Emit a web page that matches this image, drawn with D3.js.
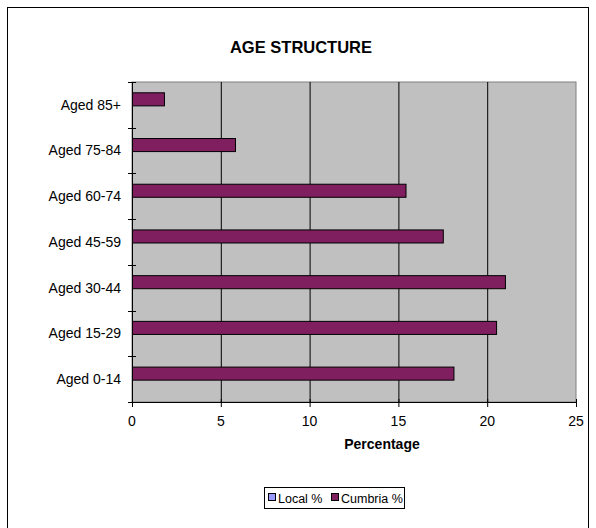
<!DOCTYPE html>
<html><head><meta charset="utf-8">
<script src="https://cdn.jsdelivr.net/npm/d3@7"></script>
<style>body{margin:0;background:#fff;} svg{display:block;font-family:"Liberation Sans",Arial,sans-serif;}</style>
</head><body>
<svg id="c" width="596" height="528"></svg>
<script>
const categories = ["Aged 0-14","Aged 15-29","Aged 30-44","Aged 45-59","Aged 60-74","Aged 75-84","Aged 85+"];
const localValues = [0,0,0,0,0,0,0];
const cumbriaValues = [18.1,20.5,21.0,17.5,15.4,5.8,1.8];
const seriesNames = ["Local %","Cumbria %"];
const xTicks = [0,5,10,15,20,25];

const svg = d3.select("#c");
svg.append("rect").attr("x",7.5).attr("y",7.5).attr("width",581).attr("height",540)
  .attr("fill","#fff").attr("stroke","#000");

const L=132, R=576, T=82, B=402;
const x = d3.scaleLinear().domain([0,25]).range([L,R]);
const y = d3.scaleBand().domain(categories.slice().reverse()).range([T,B]);
const inner = d3.scaleBand().domain(["Cumbria %","Local %"]).range([0,y.bandwidth()]).paddingInner(0).paddingOuter(0.75);

svg.append("rect").attr("x",L).attr("y",T).attr("width",R-L).attr("height",B-T)
  .attr("fill","#c0c0c0").attr("stroke","#808080");

// gridlines
svg.append("g").selectAll("line").data(xTicks.slice(1,-1)).join("line")
  .attr("x1",d=>x(d)+0.5).attr("x2",d=>x(d)+0.5).attr("y1",T).attr("y2",B)
  .attr("stroke","#000");

// title
svg.append("text").attr("x",301).attr("y",53).attr("text-anchor","middle")
  .attr("font-weight","bold").attr("font-size",16.5).text("AGE STRUCTURE");

const colors = {"Local %":"#9999ff","Cumbria %":"#7f1f5f"};
const data = [];
categories.forEach((c,i)=>{
  data.push({cat:c,s:"Local %",v:localValues[i]});
  data.push({cat:c,s:"Cumbria %",v:cumbriaValues[i]});
});
svg.append("g").selectAll("rect").data(data.filter(d=>d.v>0)).join("rect")
  .attr("x",x(0)+0.5).attr("y",d=>y(d.cat)+inner(d.s)+1)
  .attr("width",d=>x(d.v)-x(0)).attr("height",inner.bandwidth())
  .attr("fill",d=>colors[d.s]).attr("stroke","#000").attr("stroke-width",1);

// y axis
const ya = svg.append("g");
ya.append("line").attr("x1",L+0.5).attr("x2",L+0.5).attr("y1",T).attr("y2",B).attr("stroke","#000");
const bounds = d3.range(categories.length+1).map(i=>T+i*y.step());
ya.selectAll("line.t").data(bounds).join("line").attr("class","t")
  .attr("x1",L-4).attr("x2",L+4).attr("y1",d=>Math.round(d)+0.5).attr("y2",d=>Math.round(d)+0.5).attr("stroke","#000");
ya.selectAll("text").data(categories).join("text")
  .attr("x",L-11).attr("y",d=>y(d)+y.bandwidth()/2).attr("dy","0.35em")
  .attr("text-anchor","end").attr("font-size",14).text(d=>d);

// x axis
const xa = svg.append("g");
xa.append("line").attr("x1",L).attr("x2",R).attr("y1",B+0.5).attr("y2",B+0.5).attr("stroke","#000");
xa.selectAll("line.t").data(xTicks).join("line").attr("class","t")
  .attr("x1",d=>x(d)+0.5).attr("x2",d=>x(d)+0.5).attr("y1",B-3).attr("y2",B+5).attr("stroke","#000");
xa.selectAll("text").data(xTicks).join("text")
  .attr("x",d=>x(d)).attr("y",B+24).attr("text-anchor","middle").attr("font-size",14).text(d=>d);
svg.append("text").attr("x",382).attr("y",B+47).attr("text-anchor","middle")
  .attr("font-weight","bold").attr("font-size",14).text("Percentage");

// legend
const lg = svg.append("g");
lg.append("rect").attr("x",264.5).attr("y",487.5).attr("width",140).attr("height",21).attr("fill","#fff").attr("stroke","#000");
const lx = [268,331];
seriesNames.forEach((s,i)=>{
  lg.append("rect").attr("x",lx[i]+0.5).attr("y",493.5).attr("width",7).attr("height",7).attr("fill",colors[s]).attr("stroke","#000");
  lg.append("text").attr("x",lx[i]+10).attr("y",502.5).attr("font-size",12.5).text(s);
});
</script>
</body></html>
